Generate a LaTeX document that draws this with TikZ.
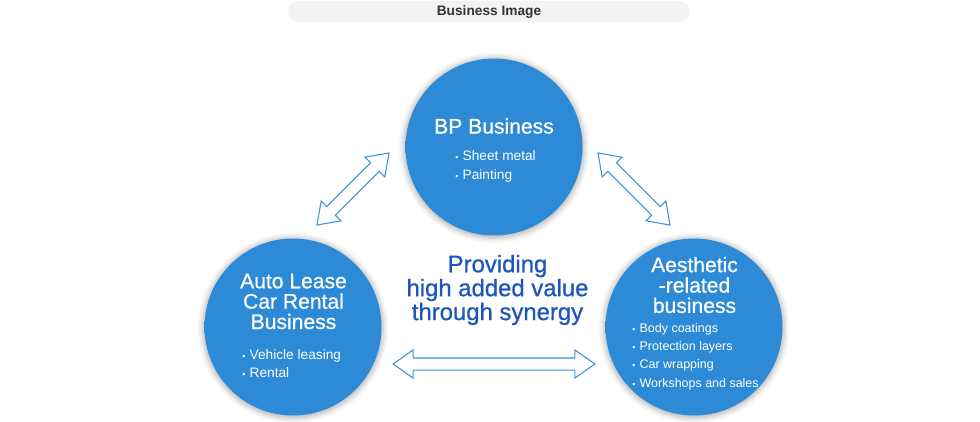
\documentclass[tikz,border=0pt]{standalone}
\usepackage{fontspec}
\setmainfont{Liberation Sans}
\usetikzlibrary{shapes.arrows, shadows.blur, positioning}

\definecolor{bizblue}{RGB}{44,138,214}
\definecolor{bizmid}{RGB}{62,152,222}
\definecolor{bizrim}{RGB}{104,182,238}
\definecolor{arrowblue}{RGB}{58,145,220}
\definecolor{synergy}{RGB}{30,86,190}
\definecolor{barfill}{RGB}{243,243,243}
\definecolor{bartext}{RGB}{51,51,51}

\pgfdeclareradialshading{bizball}{\pgfpoint{0bp}{7bp}}{color(0bp)=(bizblue); color(32bp)=(bizblue); color(44bp)=(bizmid); color(55bp)=(bizrim); color(60bp)=(bizrim)}

\newcommand{\itemdot}{{\fontsize{5}{5}\selectfont\textbullet}\hspace{2.4pt}}

\begin{document}
\begin{tikzpicture}[
    x=0.02cm, y=-0.02cm,
    bizcircle/.style={circle, minimum size=3.54cm, inner sep=0pt, shading=bizball, blur shadow={shadow xshift=0pt, shadow yshift=-0.5pt, shadow blur radius=3pt, shadow opacity=30, shadow scale=1.02}},
    title/.style={text=white, align=center, inner sep=0pt, font=\fontsize{12}{11.6}\selectfont\addfontfeature{FakeBold=0.6}},
    items/.style={text=white, align=left, inner sep=0pt, anchor=west, font=\fontsize{7.8}{10.3}\selectfont},
    link/.style={double arrow, draw=arrowblue, fill=white, line width=0.6pt, inner xsep=0pt, inner ysep=0.11cm, minimum width=0.54cm, double arrow head extend=0.16cm, double arrow tip angle=70, double arrow head indent=0pt}
]
\useasboundingbox (0,0) rectangle (980,422);

% Heading
\node[fill=barfill, rounded corners=0.21cm, minimum width=8.04cm, minimum height=0.42cm, inner sep=0pt, text=bartext, font=\fontsize{7.8}{9}\selectfont\bfseries] (heading) at (489,11.5) {Business Image};

% Business circles
\node[bizcircle] (bp) at (494,147) {};
\node[bizcircle] (lease) at (293,327) {};
\node[bizcircle] (aesthetic) at (694,327) {};

% Texts
\node[title] (bptitle) at (494,126) {BP Business};
\node[items] (bpitems) at (455,166.5) {\itemdot Sheet metal\\\itemdot Painting};
\node[title] (leasetitle) at (293.5,301.5) {Auto Lease\\Car Rental\\Business};
\node[items] (leaseitems) at (242,363.5) {\itemdot Vehicle leasing\\\itemdot Rental};
\node[title] (aesthetictitle) at (694.5,285) {Aesthetic\\-related\\business};
\node[items, font=\fontsize{7.1}{10.3}\selectfont] (aestheticitems) at (632,356.7) {\itemdot Body coatings\\\itemdot Protection layers\\\itemdot Car wrapping\\\itemdot Workshops and sales};
\node[text=synergy, align=center, inner sep=0pt, font=\fontsize{13.6}{13.6}\selectfont\addfontfeature{FakeBold=0.8}] (synergytext) at (497.5,290) {Providing\\high added value\\through synergy};

% Arrows
\node[link, minimum height=2.04cm, rotate=45] (leftlink) at (353,189) {};
\node[link, minimum height=2.04cm, rotate=-45] (rightlink) at (634,189) {};
\node[link, minimum height=4.04cm] (bottomlink) at (494,364) {};

\end{tikzpicture}
\end{document}
